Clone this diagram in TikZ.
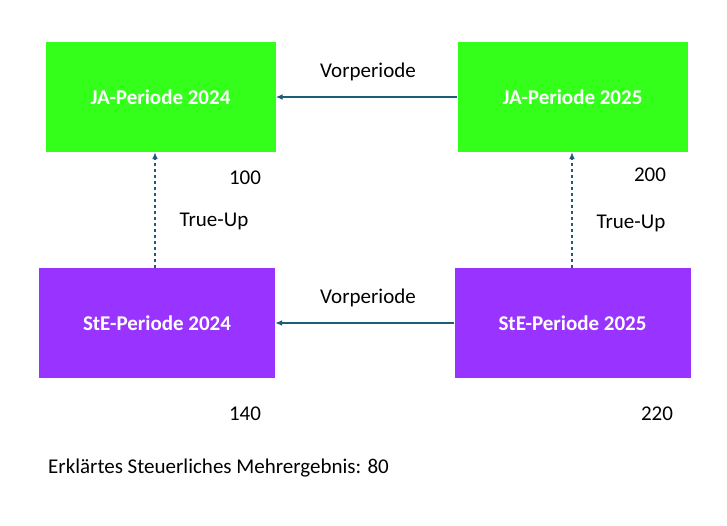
\documentclass[tikz,border=0pt]{standalone}
\usepackage{fontspec}
\setmainfont{Carlito}
\usetikzlibrary{arrows.meta,positioning}
\definecolor{jagreen}{HTML}{33FF1A}
\definecolor{stepurple}{HTML}{9933FF}
\definecolor{arcblue}{HTML}{1F5C7A}
\begin{document}
\begin{tikzpicture}[x=1pt,y=-1pt]

\tikzset{period/.style = {minimum width=230pt, minimum height=110pt, inner sep=0pt,
  font=\fontsize{21}{24}\selectfont\bfseries, text=white}}
\tikzset{arc/.style = {-{Latex[length=7pt,width=6pt]}, arcblue, line width=1.6pt}}
\tikzset{lbl/.style = {font=\fontsize{21}{24}\selectfont}}

\useasboundingbox (0,0) rectangle (727,525);

% periods
\node[period, fill=jagreen] (ja24) at (160.5,97) {JA-Periode 2024};
\node[period, fill=jagreen] (ja25) at (572.5,97) {JA-Periode 2025};
\node[period, fill=stepurple, minimum width=236pt] (st24) at (157,323) {StE-Periode 2024};
\node[period, fill=stepurple, minimum width=236pt] (st25) at (572.5,323) {StE-Periode 2025};

% arcs
\draw[arc] (ja25) to (ja24);
\draw[arc] (st25) to (st24);
\draw[arc, dashed] (st24.north -| 155,0) to (ja24.south -| 155,0);
\draw[arc, dashed] (st25.north -| 572,0) to (ja25.south -| 572,0);

% labels
\node[lbl] at (368,72) {Vorperiode};
\node[lbl] at (368,298) {Vorperiode};
\node[lbl] at (214,221) {True-Up};
\node[lbl] at (631,223) {True-Up};
\node[lbl] at (245,178) {100};
\node[lbl] at (650,175) {200};
\node[lbl] at (245,414) {140};
\node[lbl] at (657,414) {220};
\node[lbl, anchor=west, inner sep=0pt] at (48,468) {Erklärtes Steuerliches Mehrergebnis: 80};

\end{tikzpicture}
\end{document}
